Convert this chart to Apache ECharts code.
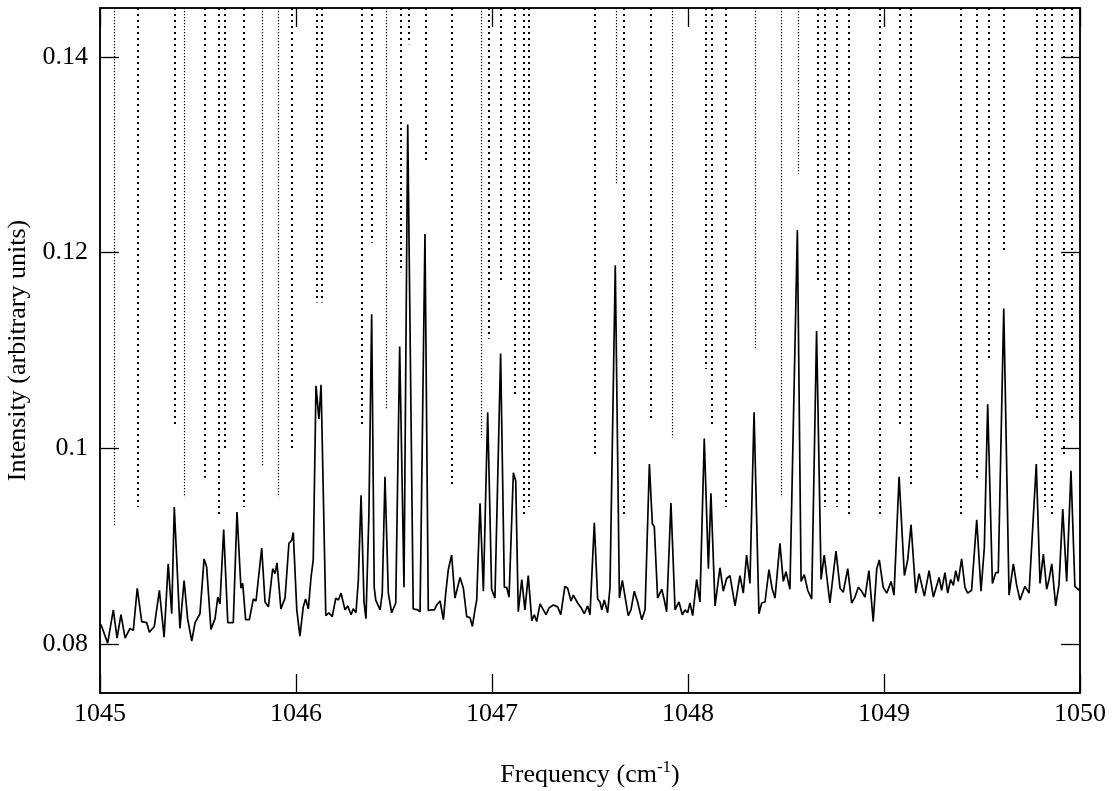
<!DOCTYPE html>
<html>
<head>
<meta charset="utf-8">
<script src="https://cdn.jsdelivr.net/npm/echarts@6/dist/echarts.min.js"></script>
<style>html,body{margin:0;padding:0;background:#fff;}#c{width:1112px;height:791px;}</style>
</head>
<body>
<div id="c"></div>
<script>
// Spectrum trace (frequency in cm^-1, intensity in arbitrary units)
const freq = [
1045.005,1045.039,1045.068,1045.087,1045.107,1045.128,1045.153,1045.170,1045.190,1045.213,
1045.238,1045.252,1045.277,1045.303,1045.327,1045.348,1045.366,1045.379,1045.408,1045.429,
1045.447,1045.468,1045.485,1045.510,1045.531,1045.544,1045.566,1045.587,1045.601,1045.612,
1045.631,1045.652,1045.680,1045.699,1045.719,1045.728,1045.743,1045.762,1045.782,1045.796,
1045.825,1045.842,1045.859,1045.881,1045.893,1045.903,1045.923,1045.944,1045.964,1045.978,
1045.986,1046.004,1046.020,1046.037,1046.049,1046.063,1046.077,1046.088,1046.102,1046.117,
1046.128,1046.152,1046.168,1046.185,1046.203,1046.216,1046.230,1046.250,1046.264,1046.281,
1046.292,1046.306,1046.318,1046.332,1046.347,1046.357,1046.372,1046.386,1046.399,1046.407,
1046.429,1046.440,1046.454,1046.471,1046.488,1046.509,1046.529,1046.551,1046.570,1046.598,
1046.607,1046.621,1046.633,1046.658,1046.675,1046.689,1046.706,1046.718,1046.735,1046.752,
1046.764,1046.777,1046.794,1046.811,1046.837,1046.854,1046.871,1046.888,1046.900,1046.913,
1046.922,1046.939,1046.956,1046.978,1046.998,1047.015,1047.044,1047.063,1047.075,1047.087,
1047.097,1047.109,1047.121,1047.134,1047.152,1047.168,1047.185,1047.203,1047.216,1047.228,
1047.245,1047.262,1047.276,1047.291,1047.313,1047.335,1047.351,1047.372,1047.386,1047.403,
1047.415,1047.437,1047.458,1047.471,1047.488,1047.500,1047.522,1047.539,1047.551,1047.560,
1047.573,1047.590,1047.602,1047.629,1047.650,1047.665,1047.695,1047.709,1047.726,1047.743,
1047.764,1047.781,1047.803,1047.818,1047.828,1047.845,1047.866,1047.879,1047.891,1047.913,
1047.934,1047.954,1047.971,1047.985,1047.998,1048.010,1048.024,1048.044,1048.061,1048.083,
1048.104,1048.117,1048.138,1048.163,1048.180,1048.197,1048.214,1048.240,1048.265,1048.282,
1048.299,1048.316,1048.337,1048.362,1048.376,1048.393,1048.413,1048.430,1048.444,1048.469,
1048.486,1048.500,1048.520,1048.558,1048.577,1048.593,1048.611,1048.631,1048.656,1048.679,
1048.695,1048.724,1048.755,1048.776,1048.792,1048.815,1048.835,1048.852,1048.869,1048.886,
1048.903,1048.923,1048.945,1048.963,1048.976,1048.996,1049.014,1049.036,1049.051,1049.077,
1049.104,1049.121,1049.138,1049.162,1049.179,1049.206,1049.230,1049.252,1049.281,1049.294,
1049.311,1049.325,1049.340,1049.354,1049.366,1049.379,1049.396,1049.413,1049.427,1049.447,
1049.473,1049.495,1049.512,1049.529,1049.553,1049.570,1049.583,1049.611,1049.638,1049.660,
1049.677,1049.694,1049.719,1049.740,1049.777,1049.796,1049.813,1049.830,1049.842,1049.856,
1049.876,1049.893,1049.912,1049.932,1049.954,1049.974,1049.996
];
const intensity = [
0.0820,0.0801,0.0835,0.0806,0.0830,0.0806,0.0816,0.0814,0.0857,0.0823,
0.0822,0.0812,0.0818,0.0855,0.0807,0.0882,0.0831,0.0940,0.0816,0.0865,
0.0826,0.0803,0.0822,0.0831,0.0887,0.0879,0.0815,0.0826,0.0848,0.0841,
0.0917,0.0822,0.0822,0.0935,0.0857,0.0862,0.0825,0.0825,0.0846,0.0844,
0.0898,0.0843,0.0838,0.0877,0.0872,0.0883,0.0836,0.0847,0.0903,0.0906,
0.0914,0.0835,0.0808,0.0838,0.0846,0.0836,0.0869,0.0886,0.1064,0.1030,
0.1065,0.0829,0.0832,0.0828,0.0847,0.0845,0.0852,0.0835,0.0839,0.0830,
0.0836,0.0832,0.0865,0.0952,0.0843,0.0826,0.0933,0.1137,0.0858,0.0845,
0.0835,0.0852,0.0971,0.0852,0.0832,0.0842,0.1104,0.0858,0.1331,0.0836,
0.0835,0.0835,0.0833,0.1219,0.0834,0.0835,0.0835,0.0840,0.0844,0.0825,
0.0852,0.0876,0.0891,0.0847,0.0868,0.0857,0.0828,0.0827,0.0818,0.0835,
0.0845,0.0944,0.0854,0.1037,0.0856,0.0847,0.1097,0.0858,0.0858,0.0848,
0.0849,0.0975,0.0967,0.0833,0.0866,0.0835,0.0870,0.0824,0.0830,0.0823,
0.0841,0.0835,0.0830,0.0837,0.0840,0.0838,0.0830,0.0859,0.0857,0.0844,
0.0850,0.0842,0.0836,0.0831,0.0839,0.0830,0.0924,0.0846,0.0843,0.0835,
0.0845,0.0832,0.0858,0.1187,0.0847,0.0865,0.0829,0.0835,0.0854,0.0843,
0.0825,0.0835,0.0984,0.0923,0.0920,0.0847,0.0856,0.0845,0.0833,0.0944,
0.0835,0.0843,0.0830,0.0835,0.0832,0.0842,0.0829,0.0866,0.0843,0.1010,
0.0877,0.0954,0.0839,0.0878,0.0854,0.0867,0.0870,0.0839,0.0870,0.0852,
0.0891,0.0862,0.1037,0.0831,0.0842,0.0843,0.0876,0.0856,0.0847,0.0903,
0.0864,0.0874,0.0856,0.1223,0.0864,0.0871,0.0855,0.0846,0.1120,0.0866,
0.0891,0.0842,0.0895,0.0857,0.0853,0.0877,0.0842,0.0848,0.0858,0.0854,
0.0848,0.0875,0.0823,0.0877,0.0886,0.0858,0.0852,0.0864,0.0850,0.0971,
0.0870,0.0886,0.0922,0.0852,0.0872,0.0849,0.0875,0.0848,0.0868,0.0855,
0.0873,0.0852,0.0866,0.0860,0.0875,0.0864,0.0887,0.0858,0.0852,0.0855,
0.0927,0.0854,0.0899,0.1045,0.0862,0.0873,0.0873,0.1143,0.0850,0.0882,
0.0860,0.0845,0.0859,0.0852,0.0984,0.0862,0.0892,0.0856,0.0866,0.0882,
0.0839,0.0861,0.0938,0.0864,0.0977,0.0859,0.0855
];

// Line-position markers (coarse dotted): frequency and lower end intensity
const coarseFreq = [
1045.192,1045.383,1045.536,1045.604,1045.634,1045.731,1045.978,1046.107,1046.131,1046.335,
1046.386,1046.536,1046.575,1046.662,1046.794,1046.981,1047.046,1047.117,1047.160,1047.186,
1047.526,1047.673,1047.811,1048.092,1048.121,1048.194,1048.660,1048.699,1048.760,1048.819,
1048.977,1049.082,1049.139,1049.394,1049.474,1049.534,1049.612,1049.781,1049.818,1049.857,
1049.918,1049.959
];
const coarseEnd = [
0.0940,0.1022,0.0970,0.0932,0.1000,0.0940,0.1000,0.1149,0.1149,0.1022,
0.1210,0.1180,0.1413,0.1292,0.0962,0.1112,0.1172,0.1052,0.0932,0.0940,
0.0992,0.0932,0.1030,0.1081,0.1022,0.0940,0.1171,0.0940,0.0940,0.0932,
0.0932,0.1022,0.0962,0.0932,0.0970,0.1090,0.1202,0.1030,0.0940,0.0932,
0.0992,0.1030
];
// Line-position markers (fine dotted)
const fineFreq = [1045.071,1045.430,1045.828,1045.907,1046.458,1046.944,1047.633,1047.918,1048.342,1048.474,1048.561];
const fineEnd  = [0.0921,0.0950,0.0981,0.0950,0.1041,0.1011,0.1271,0.1011,0.1101,0.0950,0.1281];

const yTicks = [0.08, 0.1, 0.12, 0.14];
const xTicks = [1045, 1046, 1047, 1048, 1049, 1050];
const yMin = 0.075, yMax = 0.145;

const FONT = '"Liberation Serif", "DejaVu Serif", serif';
const chart = echarts.init(document.getElementById('c'), null, {renderer: 'canvas'});

function markerLines(fs, es) {
  return fs.map((f, i) => [{coord: [f, yMax]}, {coord: [f, es[i]]}]);
}

const tickStyle = {show: true, inside: true, length: 19, lineStyle: {color: '#000', width: 1.3}};

chart.setOption({
  animation: false,
  backgroundColor: '#fff',
  grid: {left: 100, right: 32, top: 8, bottom: 98, containLabel: false, outerBoundsMode: 'none',
    show: true, borderColor: '#000', borderWidth: 1.5, backgroundColor: 'transparent'},
  xAxis: [{
    type: 'value', min: 1045, max: 1050, interval: 1, position: 'bottom',
    axisLine: {show: true, onZero: false, lineStyle: {color: '#000', width: 1.5}},
    axisTick: tickStyle,
    splitLine: {show: false},
    axisLabel: {color: '#000', fontFamily: FONT, fontSize: 26, margin: 8, formatter: v => String(v)},
    name: 'Frequency (cm{sup|-1})', nameLocation: 'middle', nameGap: 66,
    nameTextStyle: {color: '#000', fontFamily: FONT, fontSize: 26,
      rich: {sup: {fontFamily: FONT, fontSize: 17, color: '#000', verticalAlign: 'top', padding: [0, 0, 16, 0]}}}
  }, {
    type: 'value', min: 1045, max: 1050, interval: 1, position: 'top',
    axisLine: {show: true, onZero: false, lineStyle: {color: '#000', width: 1.5}},
    axisTick: tickStyle, axisLabel: {show: false}, splitLine: {show: false}
  }],
  yAxis: [{
    type: 'value', min: yMin, max: yMax, position: 'left',
    axisLine: {show: true, onZero: false, lineStyle: {color: '#000', width: 1.5}},
    axisTick: Object.assign({customValues: yTicks}, tickStyle),
    splitLine: {show: false},
    axisLabel: {customValues: yTicks, color: '#000', fontFamily: FONT, fontSize: 26, margin: 12, formatter: v => String(v)},
    name: 'Intensity (arbitrary units)', nameLocation: 'middle', nameGap: 62, nameRotate: 90,
    nameTextStyle: {color: '#000', fontFamily: FONT, fontSize: 26}
  }, {
    type: 'value', min: yMin, max: yMax, position: 'right',
    axisLine: {show: true, onZero: false, lineStyle: {color: '#000', width: 1.5}},
    axisTick: Object.assign({customValues: yTicks}, tickStyle),
    axisLabel: {show: false}, splitLine: {show: false}
  }],
  series: [{
    type: 'line', xAxisIndex: 0, yAxisIndex: 0,
    data: freq.map((f, i) => [f, intensity[i]]),
    showSymbol: false, symbol: 'none', smooth: false,
    lineStyle: {color: '#000', width: 1.7},
    z: 3,
    markLine: {
      silent: true, symbol: ['none', 'none'], label: {show: false}, animation: false,
      lineStyle: {color: '#000', width: 2, type: [2, 4]},
      data: markerLines(coarseFreq, coarseEnd)
    }
  }, {
    type: 'line', xAxisIndex: 0, yAxisIndex: 0, data: [], showSymbol: false,
    markLine: {
      silent: true, symbol: ['none', 'none'], label: {show: false}, animation: false,
      lineStyle: {color: '#000', width: 1.2, type: [1.2, 1.8]},
      data: markerLines(fineFreq, fineEnd)
    }
  }]
});
</script>
</body>
</html>
